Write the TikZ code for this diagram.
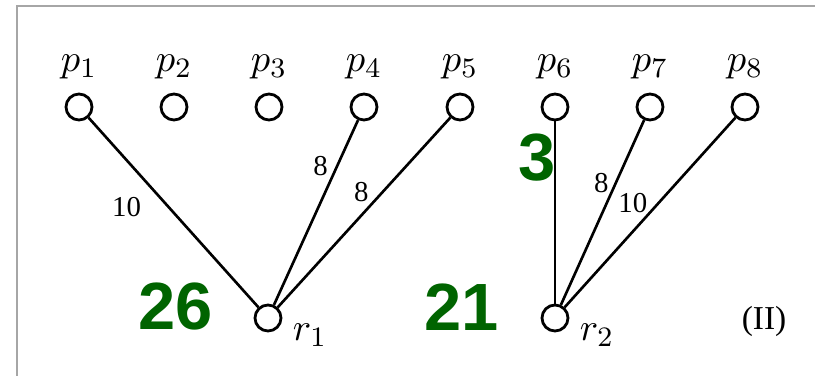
\documentclass[tikz,border=0pt]{standalone}
\usepackage{fontspec}
\newfontfamily\wtfont{Liberation Serif}
\newfontfamily\bigfont{Liberation Sans}
\usetikzlibrary{positioning}
\definecolor{numgreen}{RGB}{0,100,0}
\tikzset{v/.style={circle,draw,line width=.8pt,minimum size=2.6mm,inner sep=0pt},
 e/.style={line width=.75pt},
 w/.style={inner sep=0pt,font=\wtfont\fontsize{8.2}{9}\selectfont},
 big/.style={text=numgreen,font=\bigfont\bfseries\fontsize{19}{21}\selectfont},
 frm/.style={draw=black!35,line width=.6pt},
 every label/.style={inner sep=0pt,font=\fontsize{11}{13}\selectfont}}
\begin{document}
\begin{tikzpicture}[x=.01cm,y=-.01cm,label distance=1.3mm]
\useasboundingbox (0,0) rectangle (815,376);
\draw[frm](17,376)--(17,6)--(815,6);
\node[v,label=above:$p_1$](p1) at(79,107){};
\node[v,label=above:$p_2$](p2) at(174,107){};
\node[v,label=above:$p_3$](p3) at(269,107){};
\node[v,label=above:$p_4$](p4) at(364,107){};
\node[v,label=above:$p_5$](p5) at(460,107){};
\node[v,label=above:$p_6$](p6) at(555,107){};
\node[v,label=above:$p_7$](p7) at(650,107){};
\node[v,label=above:$p_8$](p8) at(745,107){};
\node[v,label={[label distance=0pt,xshift=1.4mm,yshift=.5mm]below right:$r_1$}](r1) at(268,318){};
\node[v,label={[label distance=0pt,xshift=1.4mm,yshift=.5mm]below right:$r_2$}](r2) at(555,318){};
\draw[e](p1)--(r1)node[w,pos=.47,left=2.6mm]{10};
\draw[e](p4)--(r1)node[w,pos=.25,left=.8mm]{8};
\draw[e](p5)--(r1)node[w,pos=.39,left=1.3mm]{8};
\draw[e](p6)--(r2);
\draw[e](p7)--(r2)node[w,pos=.34,left=.6mm]{8};
\draw[e](p8)--(r2)node[w,pos=.45,left=1mm]{10};
\node[big](c1) at(176,306){26};
\node[big](c2) at(462,307){21};
\node[big](c3) at(537,158){3};
\node[font=\wtfont\fontsize{9.5}{11}\selectfont](tag) at(764,321){(II)};
\end{tikzpicture}
\end{document}
